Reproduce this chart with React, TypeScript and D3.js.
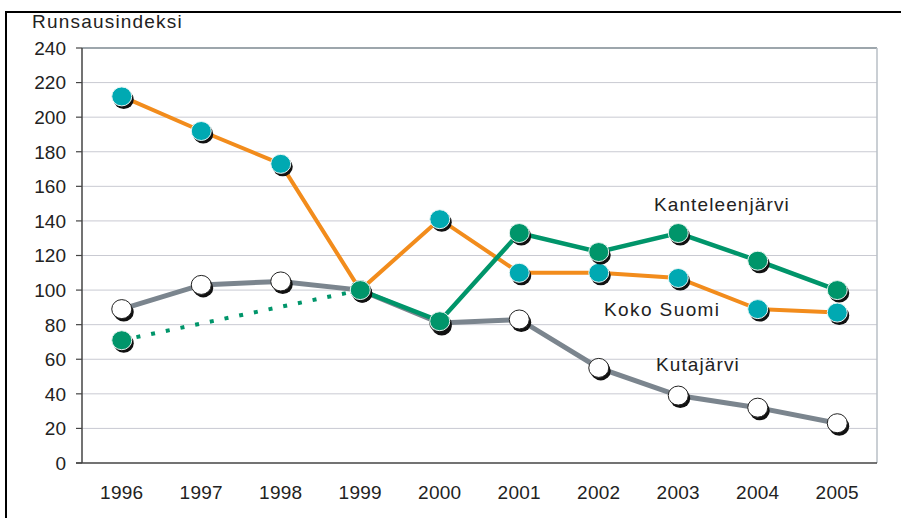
import React from "react";
import * as d3 from "d3";

const years = ["1996", "1997", "1998", "1999", "2000", "2001", "2002", "2003", "2004", "2005"];
const kokoSuomi = [212, 192, 173, 100, 141, 110, 110, 107, 89, 87];
const kanteleenjarvi = [71, null, null, 100, 82, 133, 122, 133, 117, 100];
const kutajarvi = [89, 103, 105, 100, 81, 83, 55, 39, 32, 23];
const yTicks = [0, 20, 40, 60, 80, 100, 120, 140, 160, 180, 200, 220, 240];

const W = 901;
const H = 518;
const left = 82;
const right = 877;
const top = 48;
const bottom = 463;
const font = "'Liberation Sans', Arial, sans-serif";

const x = d3.scalePoint<string>().domain(years).range([left, right]).padding(0.5);
const y = d3.scaleLinear().domain([0, 240]).range([bottom, top]);

const line = d3
  .line<[string, number | null]>()
  .defined(d => d[1] != null)
  .x(d => x(d[0]) as number)
  .y(d => y(d[1] as number));

const pairs = (vals: (number | null)[]) => years.map((yr, i) => [yr, vals[i]] as [string, number | null]);

const Marker = ({ cx, cy, fill, stroke }: { cx: number; cy: number; fill: string; stroke: string }) => (
  <g>
    <ellipse cx={cx + 2} cy={cy + 3} rx={10} ry={9.5} fill="#111" />
    <ellipse cx={cx} cy={cy} rx={10} ry={9.5} fill={fill} stroke={stroke} strokeWidth={1} />
  </g>
);

export default function App() {
  const green = "#00956a";
  const orange = "#f28c1c";
  const teal = "#00a9b2";
  const gray = "#7b858e";

  // dotted part of Kanteleenjärvi between 1996 and 1999
  const dotted: [string, number][] = [["1996", kanteleenjarvi[0] as number], ["1999", kanteleenjarvi[3] as number]];
  const solidGreen = pairs(kanteleenjarvi.map((v, i) => (i >= 3 ? v : null)));

  return (
    <svg width={W} height={H} style={{ position: "absolute", left: 0, top: 0, background: "#fff" }} fontFamily={font}>
      <rect x={6} y={12} width={960} height={560} fill="none" stroke="#000" strokeWidth={2} />
      <text x={32} y={28} fontSize={19} letterSpacing={1.2} fill="#222">Runsausindeksi</text>

      {yTicks.map(t => (
        <g key={t}>
          {t > 0 && t < 240 && <line x1={left} x2={right} y1={y(t)} y2={y(t)} stroke="#c9cad2" strokeWidth={1} />}
          <line x1={left - 6} x2={left} y1={y(t)} y2={y(t)} stroke="#444" strokeWidth={1.2} />
          <text x={66} y={y(t)} dy="0.36em" textAnchor="end" fontSize={19} fill="#222">{t}</text>
        </g>
      ))}
      <line x1={left} x2={right} y1={top} y2={top} stroke="#7d8891" strokeWidth={1.5} />
      <line x1={right} x2={right} y1={top} y2={bottom} stroke="#b9bfc6" strokeWidth={1.5} />
      <line x1={left} x2={left} y1={top} y2={bottom} stroke="#444" strokeWidth={1.5} />
      <line x1={left - 6} x2={right} y1={bottom} y2={bottom} stroke="#444" strokeWidth={1.5} />

      {years.map(yr => (
        <text key={yr} x={x(yr)} y={499} textAnchor="middle" fontSize={19} letterSpacing={0.3} fill="#222">{yr}</text>
      ))}

      <path d={line(pairs(kutajarvi)) || ""} fill="none" stroke={gray} strokeWidth={5} />
      <path d={line(pairs(kokoSuomi)) || ""} fill="none" stroke={orange} strokeWidth={4} />
      <path d={line(dotted) || ""} fill="none" stroke={green} strokeWidth={4} strokeDasharray="4,11" />
      <path d={line(solidGreen) || ""} fill="none" stroke={green} strokeWidth={4.5} />

      {kutajarvi.map((v, i) => (
        <Marker key={"k" + i} cx={x(years[i]) as number} cy={y(v)} fill="#fff" stroke="#222" />
      ))}
      {kokoSuomi.map((v, i) => (
        <Marker key={"s" + i} cx={x(years[i]) as number} cy={y(v)} fill={teal} stroke="#e8f6f6" />
      ))}
      {kanteleenjarvi.map((v, i) =>
        v == null ? null : <Marker key={"g" + i} cx={x(years[i]) as number} cy={y(v)} fill={green} stroke="#e6f3ee" />
      )}

      <text x={654} y={211} fontSize={19} letterSpacing={1.1} fill="#222">Kanteleenjärvi</text>
      <text x={604} y={316} fontSize={19} letterSpacing={1.4} fill="#222">Koko Suomi</text>
      <text x={656} y={371} fontSize={19} letterSpacing={1.1} fill="#222">Kutajärvi</text>
    </svg>
  );
}
